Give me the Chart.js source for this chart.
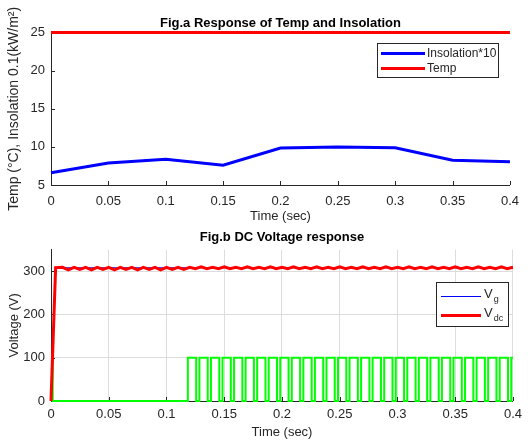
<!DOCTYPE html>
<html><head><meta charset="utf-8">
<script src="https://cdn.jsdelivr.net/npm/chart.js@4.4.0/dist/chart.umd.min.js"></script>
<style>
html,body{margin:0;padding:0;background:#fff;}
#wrap{position:relative;width:528px;height:443px;overflow:hidden;background:#fff;}
canvas{position:absolute;left:0;}
</style></head><body>
<div id="wrap">
<canvas id="c1" width="528" height="224" style="top:0px"></canvas>
<canvas id="c2" width="528" height="219" style="top:224px"></canvas>
</div>
<script>
// ---------- Data: Fig.a ----------
const timeA = [0, 0.05, 0.1, 0.15, 0.2, 0.25, 0.3, 0.35, 0.4];
const insolation10 = [6.62, 7.9, 8.38, 7.6, 9.85, 9.98, 9.9, 8.25, 8.05];
const temperature = [25, 25, 25, 25, 25, 25, 25, 25, 25];
const seriesNamesA = ['Insolation*10', 'Temp'];

// ---------- Data: Fig.b ----------
const vgTime = [0, 0.004, 0.4];
const vgValue = [0, 308, 308];
const vdcTime = [0, 0.004, 0.01, 0.015, 0.02, 0.025, 0.03, 0.035, 0.04, 0.045, 0.05, 0.055, 0.06, 0.065, 0.07, 0.075, 0.08, 0.085, 0.09, 0.095, 0.1, 0.105, 0.11, 0.115,
  0.12, 0.125, 0.13, 0.135, 0.14, 0.145, 0.15, 0.155, 0.16, 0.165, 0.17, 0.175, 0.18, 0.185, 0.19, 0.195, 0.2, 0.205, 0.21, 0.215, 0.22, 0.225, 0.23, 0.235, 0.24, 0.245,
  0.25, 0.255, 0.26, 0.265, 0.27, 0.275, 0.28, 0.285, 0.29, 0.295, 0.3, 0.305, 0.31, 0.315, 0.32, 0.325, 0.33, 0.335, 0.34, 0.345, 0.35, 0.355, 0.36, 0.365, 0.37, 0.375,
  0.38, 0.385, 0.39, 0.395, 0.4];
const vdcValue = [0, 308, 309, 303, 309, 304, 309, 303, 309, 304, 309, 303, 309, 304, 309, 303, 309, 304, 309, 303, 309, 304, 309, 304,
  309, 306, 310, 306, 309, 306, 310, 306, 309, 306, 310, 306, 309, 306, 310, 306, 309, 306, 310, 306, 309, 306, 310, 306, 309, 306,
  310, 306, 309, 306, 310, 306, 309, 306, 310, 306, 309, 306, 310, 306, 309, 306, 310, 306, 309, 306, 310, 306, 309, 306, 310, 306,
  309, 306, 310, 306, 309];
// green pulse train: edge times and the level held after each edge
const pulseEdges = [0, 0.0015, 0.1185, 0.1257, 0.1285, 0.1357, 0.1385, 0.1457, 0.1485, 0.1557, 0.1585, 0.1657, 0.1685, 0.1757, 0.1785, 0.1857,
  0.1885, 0.1957, 0.1985, 0.2057, 0.2085, 0.2157, 0.2185, 0.2257, 0.2285, 0.2357, 0.2385, 0.2457, 0.2485, 0.2557, 0.2585, 0.2657,
  0.2685, 0.2757, 0.2785, 0.2857, 0.2885, 0.2957, 0.2985, 0.3057, 0.3085, 0.3157, 0.3185, 0.3257, 0.3285, 0.3357, 0.3385, 0.3457,
  0.3485, 0.3557, 0.3585, 0.3657, 0.3685, 0.3757, 0.3785, 0.3857, 0.3885, 0.3957, 0.3985, 0.4];
const pulseLevels = [100, 0, 100, 0, 100, 0, 100, 0, 100, 0, 100, 0, 100, 0, 100, 0,
  100, 0, 100, 0, 100, 0, 100, 0, 100, 0, 100, 0, 100, 0, 100, 0,
  100, 0, 100, 0, 100, 0, 100, 0, 100, 0, 100, 0, 100, 0, 100, 0,
  100, 0, 100, 0, 100, 0, 100, 0, 100, 0, 100, 100];
const seriesNamesB = ['Vg', 'Vdc'];

// ---------- Ticks ----------
const timeTicks = [0, 0.05, 0.1, 0.15, 0.2, 0.25, 0.3, 0.35, 0.4];
const timeTickLabels = ['0', '0.05', '0.1', '0.15', '0.2', '0.25', '0.3', '0.35', '0.4'];
const tempTicks = [5, 10, 15, 20, 25];
const tempTickLabels = ['5', '10', '15', '20', '25'];
const voltTicks = [0, 100, 200, 300];
const voltTickLabels = ['0', '100', '200', '300'];

const FONT = 'Liberation Sans, Arial, Helvetica, sans-serif';
const INK = '#262626';
Chart.defaults.font.family = FONT;
Chart.defaults.color = INK;

const pts = (xs, ys) => xs.map((x, i) => ({x: x, y: ys[i]}));

const inwardTicks = {
  id: 'inwardTicks',
  beforeDatasetsDraw(chart, args, opts) {
    const ctx = chart.ctx, a = chart.chartArea, x = chart.scales.x, y = chart.scales.y;
    const len = opts.length || 4;
    ctx.save();
    ctx.strokeStyle = INK; ctx.lineWidth = 1;
    ctx.beginPath();
    x.ticks.forEach(t => { const px = Math.round(x.getPixelForValue(t.value)) + 0.5; ctx.moveTo(px, a.bottom); ctx.lineTo(px, a.bottom - len); });
    y.ticks.forEach(t => { const py = Math.round(y.getPixelForValue(t.value)) + 0.5; ctx.moveTo(a.left, py); ctx.lineTo(a.left + len, py); });
    ctx.stroke();
    ctx.restore();
  }
};

const boxLegend = {
  id: 'boxLegend',
  afterDraw(chart, args, o) {
    if (!o.items) return;
    const ctx = chart.ctx, a = chart.chartArea;
    const x0 = Math.round(a.right - o.offsetRight - o.width), y0 = Math.round(a.top + o.offsetTop);
    ctx.save();
    ctx.fillStyle = '#fff';
    ctx.fillRect(x0, y0, o.width, o.height);
    ctx.strokeStyle = INK; ctx.lineWidth = 1;
    ctx.strokeRect(x0 + 0.5, y0 + 0.5, o.width - 1, o.height - 1);
    o.items.forEach((it, i) => {
      const y = y0 + o.rowTop + i * o.rowGap;
      const ly = (it.width % 2 === 1) ? y + 0.5 : y;
      ctx.strokeStyle = it.color; ctx.lineWidth = it.width;
      ctx.beginPath(); ctx.moveTo(x0 + o.lineStart, ly); ctx.lineTo(x0 + o.lineStart + o.lineLen, ly); ctx.stroke();
      ctx.fillStyle = INK; ctx.font = o.font; ctx.textAlign = 'left';
      const tx = x0 + o.lineStart + o.lineLen + o.textGap;
      if (it.sub) {
        ctx.textBaseline = 'alphabetic';
        ctx.fillText(it.text, tx, y + o.baseShift);
        const w = ctx.measureText(it.text).width;
        ctx.font = o.subFont;
        ctx.fillText(it.sub, tx + w + 1, y + o.subShift);
      } else {
        ctx.textBaseline = 'middle';
        ctx.fillText(it.text, tx, y + 0.5);
      }
    });
    ctx.restore();
  }
};

// ---------- Fig.a ----------
new Chart(document.getElementById('c1'), {
  type: 'line',
  data: {
    datasets: [
      {label: seriesNamesA[0], data: pts(timeA, insolation10), borderColor: '#0000ff', borderWidth: 3, pointRadius: 0, tension: 0, clip: false, order: 1},
      {label: seriesNamesA[1], data: pts(timeA, temperature), borderColor: '#ff0000', borderWidth: 3, pointRadius: 0, tension: 0, clip: false, order: 0}
    ]
  },
  options: {
    responsive: false, animation: false, devicePixelRatio: 1,
    layout: {padding: {left: 0, right: 11, top: 0, bottom: 0}},
    plugins: {
      legend: {display: false}, tooltip: {enabled: false},
      title: {display: true, text: 'Fig.a Response of Temp and Insolation', fullSize: false, color: '#000',
        font: {size: 13, weight: 'bold'}, padding: {top: 16, bottom: 1}},
      inwardTicks: {length: 4},
      boxLegend: {
        items: [
          {text: seriesNamesA[0], color: '#0000ff', width: 3},
          {text: seriesNamesA[1], color: '#ff0000', width: 3}
        ],
        offsetRight: 11, offsetTop: 10, width: 122, height: 35, rowTop: 10, rowGap: 15,
        lineStart: 4, lineLen: 44, textGap: 2, font: '12px ' + FONT
      }
    },
    scales: {
      x: {
        type: 'linear', min: 0, max: 0.4,
        afterBuildTicks: s => { s.ticks = timeTicks.map(v => ({value: v})); },
        ticks: {callback: (v, i) => timeTickLabels[i], padding: 9, font: {size: 13}, maxRotation: 0, autoSkip: false},
        grid: {display: false, drawTicks: false},
        border: {display: true, color: INK, width: 1},
        title: {display: true, text: 'Time (sec)', font: {size: 13}, padding: {top: 0, bottom: 0}},
        afterFit: s => { s.height = 39; }
      },
      y: {
        type: 'linear', min: 5, max: 25,
        afterBuildTicks: s => { s.ticks = tempTicks.map(v => ({value: v})); },
        ticks: {callback: (v, i) => tempTickLabels[i], padding: 6, font: {size: 13}},
        grid: {display: false, drawTicks: false},
        border: {display: true, color: INK, width: 1},
        title: {display: true, text: 'Temp (\u00B0C), Insolation 0.1(kW/m\u00B2)', font: {size: 14}, padding: {top: 6, bottom: 0}},
        afterFit: s => { s.width = 51; }
      }
    }
  },
  plugins: [inwardTicks, boxLegend]
});

// ---------- Fig.b ----------
new Chart(document.getElementById('c2'), {
  type: 'line',
  data: {
    datasets: [
      {label: 'pulse', data: pts(pulseEdges, pulseLevels), borderColor: '#00ff00', borderWidth: 2, pointRadius: 0, stepped: 'before', clip: false, order: 2},
      {label: seriesNamesB[0], data: pts(vgTime, vgValue), borderColor: '#0000ff', borderWidth: 1, pointRadius: 0, tension: 0, clip: false, order: 1},
      {label: seriesNamesB[1], data: pts(vdcTime, vdcValue), borderColor: '#ff0000', borderWidth: 3, pointRadius: 0, tension: 0, clip: false, order: 0}
    ]
  },
  options: {
    responsive: false, animation: false, devicePixelRatio: 1,
    layout: {padding: {left: 0, right: 13, top: 0, bottom: 0}},
    plugins: {
      legend: {display: false}, tooltip: {enabled: false},
      title: {display: true, text: 'Fig.b DC Voltage response', fullSize: false, color: '#000',
        font: {size: 13, weight: 'bold'}, padding: {top: 6, bottom: 4}},
      inwardTicks: {length: 4},
      boxLegend: {
        items: [
          {text: 'V', sub: 'g', color: '#0000ff', width: 1},
          {text: 'V', sub: 'dc', color: '#ff0000', width: 3}
        ],
        offsetRight: 4, offsetTop: 32, width: 73, height: 45, rowTop: 14, rowGap: 19,
        lineStart: 5, lineLen: 40, textGap: 3, font: '13px ' + FONT, subFont: '9px ' + FONT,
        baseShift: 1.5, subShift: 6
      }
    },
    scales: {
      x: {
        type: 'linear', min: 0, max: 0.4,
        afterBuildTicks: s => { s.ticks = timeTicks.map(v => ({value: v})); },
        ticks: {callback: (v, i) => timeTickLabels[i], padding: 6, font: {size: 13}, maxRotation: 0, autoSkip: false},
        grid: {display: true, color: '#dcdcdc', lineWidth: 1, drawTicks: false},
        border: {display: true, color: INK, width: 1},
        title: {display: true, text: 'Time (sec)', font: {size: 13}, padding: {top: 0, bottom: 3}},
        afterFit: s => { s.height = 42; }
      },
      y: {
        type: 'linear', min: 0, max: 350,
        afterBuildTicks: s => { s.ticks = voltTicks.map(v => ({value: v})); },
        ticks: {callback: (v, i) => voltTickLabels[i], padding: 6, font: {size: 13}},
        grid: {display: true, color: '#dcdcdc', lineWidth: 1, drawTicks: false},
        border: {display: true, color: INK, width: 1},
        title: {display: true, text: 'Voltage (V)', font: {size: 13}, padding: {top: 7, bottom: 0}},
        afterFit: s => { s.width = 51; }
      }
    }
  },
  plugins: [inwardTicks, boxLegend]
});
</script>
</body></html>
